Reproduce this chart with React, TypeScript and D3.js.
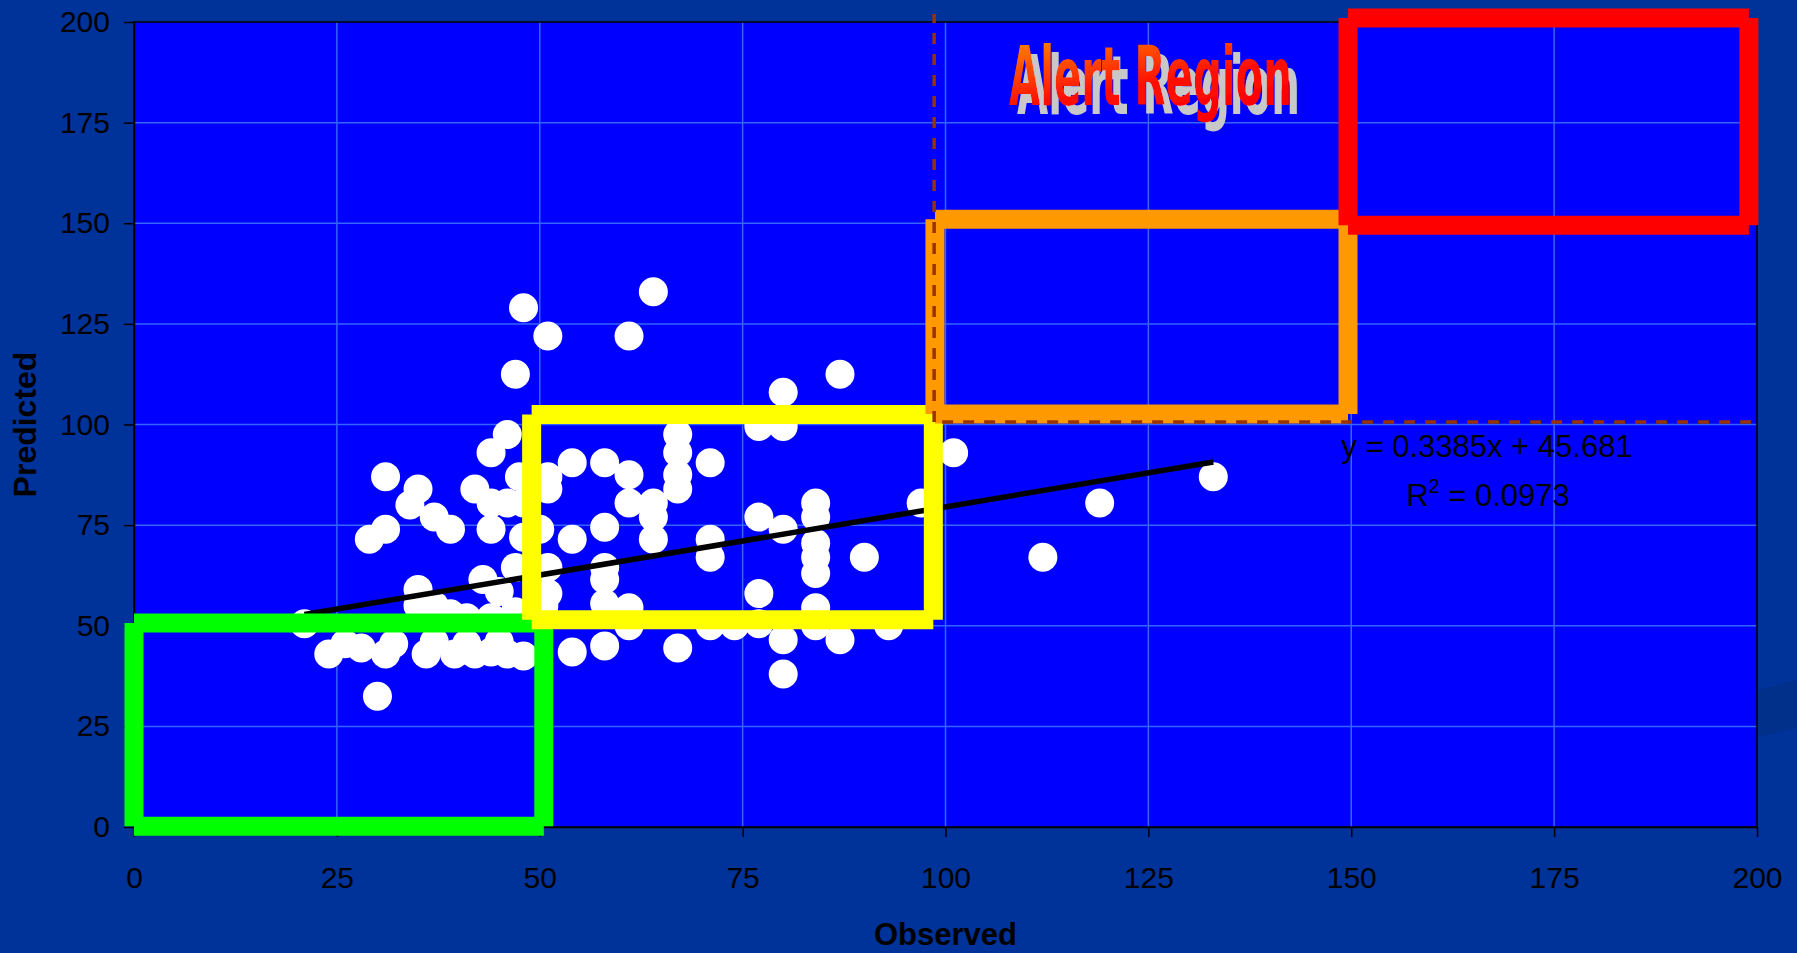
import { useEffect, useRef } from "react"
import * as d3 from "d3"

const W = 1797
const H = 953
const PLOT = { left: 134, right: 1757, top: 22, bottom: 827 }

// observed vs predicted
const observed = [
  21, 24, 26, 28, 29, 30, 31, 31, 31, 32, 34, 35, 35, 35, 36, 37, 37, 37, 39, 39, 39.5, 41, 41, 42, 42, 43,
  44, 44, 44, 44, 44, 45, 45, 46, 46, 46, 47, 47.5, 47, 47, 48, 48, 48, 48,
  50, 51, 51, 51, 51, 51, 50.5, 54, 54, 54, 58, 58, 58, 58, 58, 58, 61, 61, 61, 61, 61, 64, 64, 64, 64,
  67, 67, 67, 67, 67, 71, 71, 71, 71, 74, 77, 77, 77, 77, 80, 80, 80, 80, 80, 84, 84, 84, 84, 84, 84, 84,
  87, 87, 90, 93, 97, 101, 112, 119, 133,
]
const predicted = [
  50.5, 43, 45.5, 44.5, 71.5, 32.5, 87, 74, 43, 45.5, 80, 84, 59, 55, 43, 77, 55, 46, 74, 53, 43, 45.5, 52, 84, 43, 61.5,
  93, 80.5, 74, 52, 43.5, 58.5, 46, 97.5, 80.5, 43, 112.5, 87, 64.5, 53.5, 129, 80.5, 72, 42.5,
  74, 122, 87, 84, 64.5, 58, 55, 90.5, 71.5, 43.5, 90.5, 74.5, 64.5, 61.5, 55.5, 45, 122, 87.5, 80.5, 54.5, 50, 133, 80.5, 77, 71.5,
  97.5, 93, 87.5, 84, 44.5, 90.5, 71.5, 67, 50, 50, 99.5, 77, 58, 50.5, 108, 99.5, 74, 46.5, 38, 80.5, 77, 70.5, 67, 63, 54.5, 50,
  112.5, 46.5, 67, 50, 80.5, 93, 67, 80.5, 87,
]

const ticks = [0, 25, 50, 75, 100, 125, 150, 175, 200]

// linear trend as printed on the chart
const slope = 0.3385
const intercept = 45.681
const equation = "y = 0.3385x + 45.681"
const rSquared = "0.0973"

// alert boxes in data units
const regions = [
  { name: "low", x0: 0, x1: 50.5, y0: 0.2, y1: 50.7 },
  { name: "mid", x0: 49, x1: 98.5, y0: 51.5, y1: 102.5 },
  { name: "high", x0: 98.7, x1: 149.6, y0: 102.6, y1: 151 },
  { name: "alert", x0: 149.6, x1: 199, y0: 149.5, y1: 201 },
]
const regionColors: Record<string, string> = {
  low: "#00FF00",
  mid: "#FFFF00",
  high: "#FF9900",
  alert: "#FF0000",
}

// alert thresholds (dashed)
const thresholdX = 98.6
const thresholdY = 100.6

export default function App() {
  const svgRef = useRef<SVGSVGElement>(null)

  useEffect(() => {
    if (!svgRef.current) return
    const svg = d3.select(svgRef.current)
    svg.selectAll("*").remove()

    const x = d3.scaleLinear().domain([0, 200]).range([PLOT.left, PLOT.right])
    const y = d3.scaleLinear().domain([0, 200]).range([PLOT.bottom, PLOT.top])

    const defs = svg.append("defs")
    const grad = defs
      .append("linearGradient")
      .attr("id", "alertGrad")
      .attr("x1", 0)
      .attr("y1", 0)
      .attr("x2", 0.5)
      .attr("y2", 1)
    grad.append("stop").attr("offset", "0%").attr("stop-color", "#FF9900")
    grad.append("stop").attr("offset", "65%").attr("stop-color", "#FF1000")
    grad.append("stop").attr("offset", "100%").attr("stop-color", "#FF0000")

    // grey WordArt shadow
    const shadow = defs
      .append("filter")
      .attr("id", "wordShadow")
      .attr("x", "-10%")
      .attr("y", "-20%")
      .attr("width", "130%")
      .attr("height", "150%")
    shadow.append("feOffset").attr("in", "SourceAlpha").attr("dx", 8).attr("dy", 9).attr("result", "off")
    shadow.append("feFlood").attr("flood-color", "#C8C8C8").attr("result", "grey")
    shadow.append("feComposite").attr("in", "grey").attr("in2", "off").attr("operator", "in").attr("result", "sh")
    const merge = shadow.append("feMerge")
    merge.append("feMergeNode").attr("in", "sh")
    merge.append("feMergeNode").attr("in", "SourceGraphic")

    // slide background
    svg.append("rect").attr("width", W).attr("height", H).attr("fill", "#003399")
    svg
      .append("polygon")
      .attr("points", `1700,705 ${W},680 ${W},728 1700,750`)
      .attr("fill", "#00308A")

    // plot area
    svg
      .append("rect")
      .attr("x", PLOT.left)
      .attr("y", PLOT.top)
      .attr("width", PLOT.right - PLOT.left)
      .attr("height", PLOT.bottom - PLOT.top)
      .attr("fill", "#0000FF")

    // grid
    const grid = svg.append("g").attr("stroke", "#3366FF").attr("stroke-width", 1.5)
    grid
      .selectAll("line.gx")
      .data(ticks.slice(1, -1))
      .join("line")
      .attr("x1", (d) => x(d))
      .attr("x2", (d) => x(d))
      .attr("y1", PLOT.top)
      .attr("y2", PLOT.bottom)
    grid
      .selectAll("line.gy")
      .data(ticks.slice(1, -1))
      .join("line")
      .attr("class", "gy")
      .attr("x1", PLOT.left)
      .attr("x2", PLOT.right)
      .attr("y1", (d) => y(d))
      .attr("y2", (d) => y(d))

    svg
      .append("rect")
      .attr("x", PLOT.left)
      .attr("y", PLOT.top)
      .attr("width", PLOT.right - PLOT.left)
      .attr("height", PLOT.bottom - PLOT.top)
      .attr("fill", "none")
      .attr("stroke", "#000")
      .attr("stroke-width", 1.5)

    // axes
    const font = "'Liberation Sans', Arial, sans-serif"
    const yAxis = svg
      .append("g")
      .attr("transform", `translate(${PLOT.left},0)`)
      .call(d3.axisLeft(y).tickValues(ticks).tickSize(10).tickSizeOuter(0).tickPadding(14))
    const xAxis = svg
      .append("g")
      .attr("transform", `translate(0,${PLOT.bottom})`)
      .call(d3.axisBottom(x).tickValues(ticks).tickSize(10).tickSizeOuter(0).tickPadding(30))
    for (const ax of [xAxis, yAxis]) {
      ax.select(".domain").attr("stroke", "#000").attr("stroke-width", 1.5)
      ax.selectAll(".tick line").attr("stroke", "#000").attr("stroke-width", 1.5)
      ax.selectAll(".tick text").attr("fill", "#000").attr("font-size", 30).attr("font-family", font)
    }

    svg
      .append("text")
      .attr("x", (PLOT.left + PLOT.right) / 2)
      .attr("y", 945)
      .attr("text-anchor", "middle")
      .attr("font-family", font)
      .attr("font-weight", "bold")
      .attr("font-size", 31)
      .attr("fill", "#000")
      .text("Observed")
    svg
      .append("text")
      .attr("transform", `translate(36,${(PLOT.top + PLOT.bottom) / 2}) rotate(-90)`)
      .attr("text-anchor", "middle")
      .attr("font-family", font)
      .attr("font-weight", "bold")
      .attr("font-size", 32)
      .attr("fill", "#000")
      .text("Predicted")

    // points
    svg
      .append("g")
      .selectAll("circle")
      .data(observed.map((o, i) => [o, predicted[i]]))
      .join("circle")
      .attr("cx", (d) => x(d[0]))
      .attr("cy", (d) => y(d[1]))
      .attr("r", 14.5)
      .attr("fill", "#fff")

    // trend line
    const [xMin, xMax] = d3.extent(observed) as [number, number]
    const trend = d3
      .line<number>()
      .x((d) => x(d))
      .y((d) => y(slope * d + intercept))
    svg
      .append("path")
      .datum([xMin, xMax])
      .attr("fill", "none")
      .attr("stroke", "#000")
      .attr("stroke-width", 5.5)
      .attr("d", trend)

    // region boxes: four separate strokes, so the corners stay notched
    const boxes = svg.append("g").attr("stroke-width", 19).attr("stroke-linecap", "butt")
    regions.forEach((r) => {
      const g = boxes.append("g").attr("stroke", regionColors[r.name])
      const segs = [
        [r.x0, r.y1, r.x1, r.y1],
        [r.x1, r.y1, r.x1, r.y0],
        [r.x1, r.y0, r.x0, r.y0],
        [r.x0, r.y0, r.x0, r.y1],
      ]
      g.selectAll("line")
        .data(segs)
        .join("line")
        .attr("x1", (s) => x(s[0]))
        .attr("y1", (s) => y(s[1]))
        .attr("x2", (s) => x(s[2]))
        .attr("y2", (s) => y(s[3]))
    })

    // thresholds
    const dash = svg
      .append("g")
      .attr("stroke", "#993300")
      .attr("stroke-width", 3.5)
      .attr("stroke-dasharray", "11,10")
    dash
      .append("line")
      .attr("x1", x(thresholdX))
      .attr("x2", x(thresholdX))
      .attr("y1", y(thresholdY))
      .attr("y2", 14)
    dash
      .append("line")
      .attr("x1", x(thresholdX) + 8)
      .attr("x2", PLOT.right)
      .attr("y1", y(thresholdY))
      .attr("y2", y(thresholdY))

    // equation label
    svg
      .append("text")
      .attr("x", 1487)
      .attr("y", 457)
      .attr("text-anchor", "middle")
      .attr("font-family", font)
      .attr("font-size", 31)
      .attr("fill", "#000")
      .text(equation)
    const r2 = svg
      .append("text")
      .attr("x", 1488)
      .attr("y", 506)
      .attr("text-anchor", "middle")
      .attr("font-family", font)
      .attr("font-size", 31)
      .attr("fill", "#000")
    r2.append("tspan").text("R")
    r2.append("tspan").attr("font-size", 20).attr("dy", -13).text("2")
    r2.append("tspan").attr("dy", 13).text(` = ${rSquared}`)

    // WordArt title
    svg
      .append("text")
      .attr("x", 1009)
      .attr("y", 105)
      .attr("font-family", "'Liberation Sans Narrow', 'DejaVu Sans Condensed', 'Liberation Sans', sans-serif")
      .attr("font-weight", "bold")
      .attr("font-size", 82)
      .attr("textLength", 283)
      .attr("lengthAdjust", "spacingAndGlyphs")
      .attr("fill", "url(#alertGrad)")
      .attr("filter", "url(#wordShadow)")
      .text("Alert Region")
  }, [])

  return (
    <svg
      ref={svgRef}
      width={W}
      height={H}
      style={{ position: "absolute", left: 0, top: 0, display: "block" }}
    />
  )
}
